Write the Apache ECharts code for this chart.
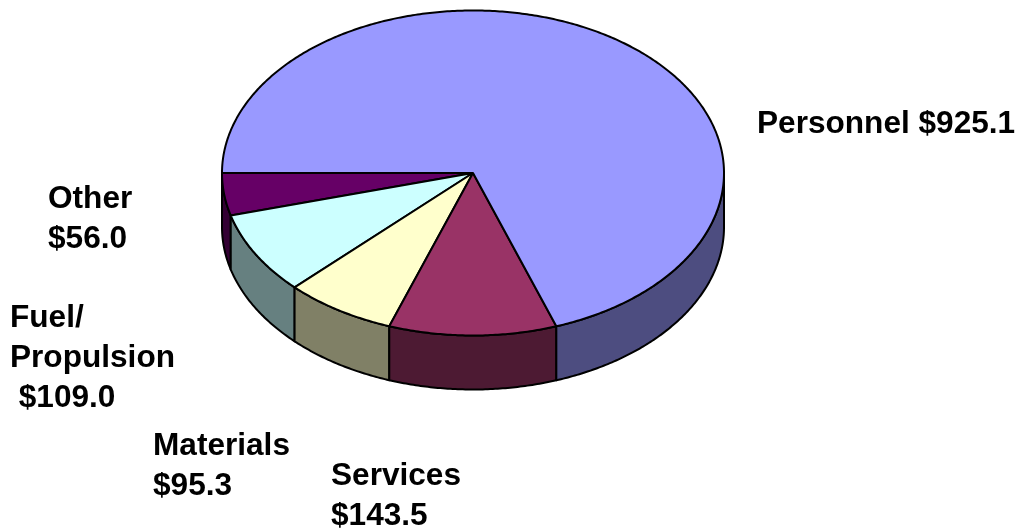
<!DOCTYPE html>
<html><head><meta charset="utf-8">
<style>html,body{margin:0;padding:0;background:#fff}#c{width:1018px;height:529px}</style>
<script src="https://cdn.jsdelivr.net/npm/echarts@6/dist/echarts.min.js"></script>
</head><body><div id="c"></div>
<script>
const categories = ['Other', 'Fuel/Propulsion', 'Materials', 'Services', 'Personnel'];
const values = [56.0, 109.0, 95.3, 143.5, 925.1];
const topColors = ['#660066', '#ccffff', '#ffffcc', '#993366', '#9999ff'];
const sideColors = ['#330033', '#668080', '#808066', '#4d1a33', '#4d4d80'];
const labelTexts = ['Personnel $925.1', 'Other\n$56.0', 'Fuel/\nPropulsion\n $109.0', 'Materials\n$95.3', 'Services\n$143.5'];
const labelAnchors = [[757, 104], [48, 179], [10, 298], [153, 426], [331, 456]];

const cx = 473, cy = 173, rx = 251, ry = 162.5, depth = 54;
const total = values.reduce((a, b) => a + b, 0);
const starts = [];
values.reduce((acc, v, i) => { starts[i] = acc; return acc + v; }, 0);
const pt = (t, dy) => [cx - rx * Math.cos(t), cy + ry * Math.sin(t) + (dy || 0)];
function arc(a, b, dy) {
  const n = Math.max(2, Math.ceil(Math.abs(b - a) / 0.01)), out = [];
  for (let k = 0; k <= n; k++) out.push(pt(a + (b - a) * k / n, dy));
  return out;
}
function renderItem(params, api) {
  const i = params.dataIndex;
  const a = starts[i] / total * 2 * Math.PI;
  const b = (starts[i] + api.value(0)) / total * 2 * Math.PI;
  const children = [];
  const vEnd = Math.min(b, Math.PI);
  if (a < Math.PI) {
    const top = arc(a, vEnd, 0), low = arc(a, vEnd, depth).reverse();
    children.push({ type: 'polygon', shape: { points: top.concat(low) },
      style: { fill: sideColors[i], stroke: '#000', lineWidth: 2, lineJoin: 'round' } });
  }
  children.push({ type: 'polygon', shape: { points: [[cx, cy]].concat(arc(a, b, 0)) },
    style: { fill: topColors[i], stroke: '#000', lineWidth: 2, lineJoin: 'round' } });
  return { type: 'group', children };
}
const chart = echarts.init(document.getElementById('c'), null, { renderer: 'canvas' });
chart.setOption({
  animation: false,
  backgroundColor: '#fff',
  series: [{
    type: 'custom', coordinateSystem: 'none', renderItem,
    data: values.map((v, i) => ({ name: categories[i], value: [v] }))
  }],
  graphic: labelTexts.map((t, i) => ({
    type: 'text', x: labelAnchors[i][0], y: labelAnchors[i][1], silent: true,
    style: { text: t, fill: '#000', font: 'bold 31.6px "Liberation Sans", Arial, sans-serif', lineHeight: 40 }
  }))
});
</script></body></html>
